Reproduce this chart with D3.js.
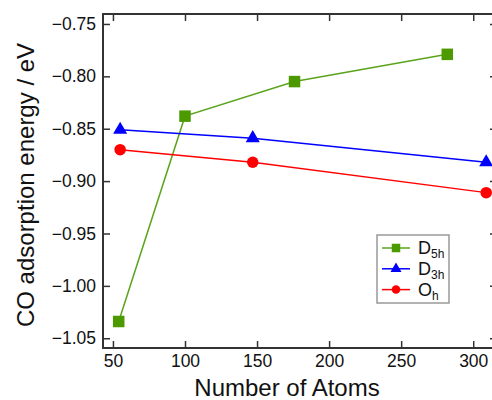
<!DOCTYPE html>
<html>
<head>
<meta charset="utf-8">
<script src="https://cdn.jsdelivr.net/npm/d3@7"></script>
<style>
  body { margin: 0; background: #fff; }
  text { font-family: Helvetica, Arial, "Liberation Sans", sans-serif; fill: #111; }
</style>
</head>
<body>
<div id="chart"></div>
<script>
//Data//
//Number of atoms for each cluster shape
var d5hAtoms = [54, 100, 176, 282];
var d3hAtoms = [55, 147, 309];
var ohAtoms = [55, 147, 309];
//CO adsorption energy (eV)
var d5hEnergy = [-1.034, -0.838, -0.805, -0.779];
var d3hEnergy = [-0.851, -0.859, -0.882];
var ohEnergy = [-0.870, -0.882, -0.911];
//Tick labels
var xTicks = [50, 100, 150, 200, 250, 300];
var yTicks = [-0.75, -0.80, -0.85, -0.90, -0.95, -1.00, -1.05];

var series = [
  {name: "D", sub: "5h", x: d5hAtoms, y: d5hEnergy, color: "#4c9900", line: "#5aa41c", shape: "square"},
  {name: "D", sub: "3h", x: d3hAtoms, y: d3hEnergy, color: "#0000ff", line: "#0000ff", shape: "triangle"},
  {name: "O", sub: "h", x: ohAtoms, y: ohEnergy, color: "#ff0000", line: "#ff0000", shape: "circle"}
];

var w = 492, h = 400;
//plot box (right edge sits just past the window)
var mLeft = 103, mRight = 497, mTop = 14, mBottom = 348;

var svg = d3.select("#chart")
  .append("svg")
  .attr("width", w)
  .attr("height", h);

var x = d3.scaleLinear().domain([43.1, 316.5]).range([mLeft, mRight]);
var y = d3.scaleLinear().domain([-1.0593, -0.7405]).range([mBottom, mTop]);

//Axes, ticks pointing inwards
var axisColor = "#333";
function styleAxis(g) {
  g.select(".domain").remove();
  g.selectAll(".tick line").attr("stroke", axisColor).attr("stroke-width", 1.5);
  g.selectAll(".tick text")
    .style("font-size", "17.5px")
    .attr("fill", "#111");
}

svg.append("g")
  .attr("transform", "translate(0," + mBottom + ")")
  .call(d3.axisBottom(x).tickValues(xTicks).tickSizeInner(-7).tickPadding(7).tickFormat(d3.format("d")))
  .call(styleAxis);
svg.append("g")
  .attr("transform", "translate(0," + mTop + ")")
  .call(d3.axisTop(x).tickValues(xTicks).tickSizeInner(-7).tickFormat(""))
  .call(styleAxis);
svg.append("g")
  .attr("transform", "translate(" + mLeft + ",0)")
  .call(d3.axisLeft(y).tickValues(yTicks).tickSizeInner(-7).tickPadding(7).tickFormat(d3.format(".2f")))
  .call(styleAxis);
svg.append("g")
  .attr("transform", "translate(" + mRight + ",0)")
  .call(d3.axisRight(y).tickValues(yTicks).tickSizeInner(-7).tickFormat(""))
  .call(styleAxis);

//Frame
svg.append("path")
  .attr("d", "M" + mRight + "," + mTop + "H" + mLeft + "V" + mBottom + "H" + mRight)
  .attr("fill", "none")
  .attr("stroke", axisColor)
  .attr("stroke-width", 2);

//Axis titles
svg.append("text")
  .attr("x", 287)
  .attr("y", 396)
  .attr("text-anchor", "middle")
  .style("font-size", "24px")
  .text("Number of Atoms");
svg.append("text")
  .attr("transform", "translate(34,185) rotate(-90)")
  .attr("text-anchor", "middle")
  .style("font-size", "24px")
  .text("CO adsorption energy / eV");

//Marker drawing
function drawMarker(g, shape, color, s) {
  if (shape == "square") {
    g.append("rect")
      .attr("x", -s / 2).attr("y", -s / 2)
      .attr("width", s).attr("height", s)
      .attr("fill", color);
  } else if (shape == "triangle") {
    var r = s * 0.58;
    g.append("path")
      .attr("d", "M0," + (-r) + "L" + (r * 0.866) + "," + (r / 2) + "L" + (-r * 0.866) + "," + (r / 2) + "Z")
      .attr("fill", color);
  } else {
    g.append("circle").attr("r", s / 2).attr("fill", color);
  }
}

//Lines and points
var line = d3.line()
  .x(function(d) { return x(d[0]); })
  .y(function(d) { return y(d[1]); });

series.forEach(function(s) {
  var pts = d3.zip(s.x, s.y);
  svg.append("path")
    .datum(pts)
    .attr("d", line)
    .attr("fill", "none")
    .attr("stroke", s.line)
    .attr("stroke-width", 1.5);
  pts.forEach(function(p) {
    var g = svg.append("g").attr("transform", "translate(" + x(p[0]) + "," + y(p[1]) + ")");
    drawMarker(g, s.shape, s.color, s.shape == "triangle" ? 14 : 11.5);
  });
});

//Legend
var legend = svg.append("g").attr("transform", "translate(377,235)");
legend.append("rect")
  .attr("width", 72).attr("height", 68)
  .attr("fill", "#fff")
  .attr("stroke", "#999")
  .attr("stroke-width", 1.5);
series.forEach(function(s, i) {
  var yy = 13 + i * 20.8;
  legend.append("line")
    .attr("x1", 5).attr("x2", 33)
    .attr("y1", yy).attr("y2", yy)
    .attr("stroke", s.line)
    .attr("stroke-width", 1.5);
  var g = legend.append("g").attr("transform", "translate(19," + yy + ")");
  drawMarker(g, s.shape, s.color, s.shape == "triangle" ? 11 : 8.5);
  var t = legend.append("text")
    .attr("x", 41)
    .attr("y", yy + 6)
    .style("font-size", "18px")
    .text(s.name);
  t.append("tspan")
    .attr("dy", 4)
    .style("font-size", "12px")
    .text(s.sub);
});
</script>
</body>
</html>
